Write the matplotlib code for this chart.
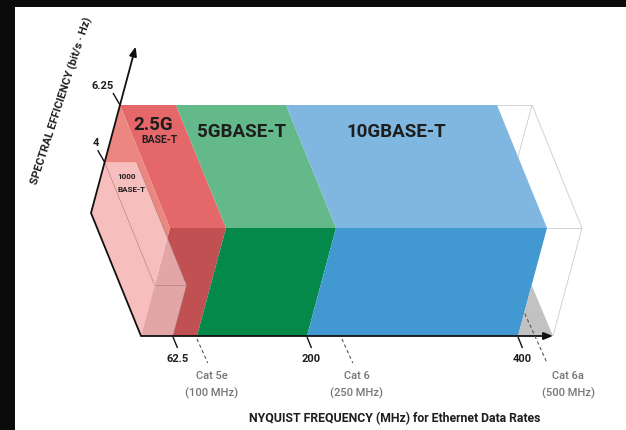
import numpy as np
import matplotlib
matplotlib.use("Agg")
import matplotlib.pyplot as plt
from matplotlib.patches import Polygon, Rectangle

# ---------------- data ----------------
band_label_main = ["2.5G", "5GBASE-T", "10GBASE-T"]
band_label_sub = ["BASE-T", "", ""]
band_f_start = [0, 100, 200]
band_f_end = [100, 200, 400]
band_efficiency = [6.25, 6.25, 6.25]

gig_label = ["1000", "BASE-T"]
gig_f_end = 62.5
gig_efficiency = 4

cat6a_f_end = 500          # extent of the empty (Cat 6a) box
x_ticks = [62.5, 200, 400]
y_ticks = [4, 6.25]
cable_names = ["Cat 5e", "Cat 6", "Cat 6a"]
cable_freq = [100, 250, 500]

# ---------------- illustration scale (not to scale, as in original) -------
FREQ_KNOTS = [0, 62.5, 100, 200, 250, 400, 500]
FREQ_PX = [0, 32, 56, 166, 201, 377, 412]
S_MIN, S_MAX = 2.0, 6.25
ORIGIN = np.array([141.0, 336.0])
EFF_VEC = np.array([29.0, -108.0])
DEPTH_VEC = np.array([-50.0, -123.0])


def proj(f, s, d):
    u = np.interp(f, FREQ_KNOTS, FREQ_PX)
    t = (s - S_MIN) / (S_MAX - S_MIN)
    p = ORIGIN + np.array([u, 0.0]) + t * EFF_VEC + d * DEPTH_VEC
    return float(p[0]), float(p[1])


top_colors = ["#E4676A", "#64B98A", "#80B7E1"]
front_colors = ["#C15053", "#05894A", "#4299D2"]
end_color = "#EC8681"
TEXT = "#1E1E1E"
GREY_TXT = "#767676"
FONT = ["Roboto", "DejaVu Sans"]

fig = plt.figure(figsize=(6.26, 4.30), dpi=100, facecolor="#0B0B0B")
ax = fig.add_axes([0, 0, 1, 1])
ax.set_xlim(0, 626)
ax.set_ylim(430, 0)
ax.axis("off")
ax.add_patch(Rectangle((15, 7), 611, 423, facecolor="white", edgecolor="none", zorder=0))


def poly(pts, fc, ec="none", lw=0, alpha=1.0, z=2):
    ax.add_patch(Polygon(pts, closed=True, facecolor=fc, edgecolor=ec,
                         linewidth=lw, alpha=alpha, zorder=z, joinstyle="miter"))


def line(p, q, **kw):
    ax.plot([p[0], q[0]], [p[1], q[1]], solid_capstyle="butt", **kw)


# ---- empty Cat 6a box (400 -> 500) ----
f0, f1 = band_f_end[-1], cat6a_f_end
edge = dict(color="#D2D2D2", lw=0.7, zorder=1)
line(proj(f1, S_MAX, 1), proj(f1, S_MIN, 1), **edge)
line(proj(0, S_MAX, 1), proj(f1, S_MAX, 1), **edge)
line(proj(f1, S_MAX, 1), proj(f1, S_MAX, 0), **edge)
line(proj(f1, S_MAX, 0), proj(f1, S_MIN, 0), **edge)
line(proj(f0, S_MAX, 0), proj(f1, S_MAX, 0), **edge)

# ---- bands ----
for i in range(len(band_f_start)):
    a, b, s = band_f_start[i], band_f_end[i], band_efficiency[i]
    top = [proj(a, s, 0), proj(b, s, 0), proj(b, s, 1), proj(a, s, 1)]
    front = [proj(a, S_MIN, 0), proj(b, S_MIN, 0), proj(b, s, 0), proj(a, s, 0)]
    poly(top, top_colors[i], z=2)
    poly(front, front_colors[i], z=2)

# left end face of first band
s = band_efficiency[0]
poly([proj(0, S_MIN, 0), proj(0, s, 0), proj(0, s, 1), proj(0, S_MIN, 1)], end_color, z=2)

# grey triangle beyond 400 MHz
poly([proj(f0, S_MIN, 0), proj(f0, gig_efficiency, 0), proj(f1, S_MIN, 0)], "#C2C2C2", z=2)

# ---- 1000BASE-T translucent box ----
g = gig_efficiency
pink = "#FFEEEE"
faces = [
    [proj(0, S_MIN, 0), proj(0, g, 0), proj(0, g, 1), proj(0, S_MIN, 1)],
    [proj(0, g, 0), proj(gig_f_end, g, 0), proj(gig_f_end, g, 1), proj(0, g, 1)],
    [proj(0, S_MIN, 0), proj(gig_f_end, S_MIN, 0), proj(gig_f_end, g, 0), proj(0, g, 0)],
]
for fc in faces:
    poly(fc, pink, alpha=0.55, z=3)
ed = dict(color="#9A7070", lw=0.45, alpha=0.7, zorder=4)
line(proj(0, g, 1), proj(0, g, 0), **ed)
line(proj(0, g, 0), proj(gig_f_end, g, 0), **ed)
line(proj(gig_f_end, g, 0), proj(gig_f_end, S_MIN, 0), **ed)
line(proj(gig_f_end, g, 1), proj(gig_f_end, g, 0), **ed)

# ---- axes ----
ax_kw = dict(color="#111111", lw=1.3, zorder=6)
line(proj(0, S_MIN, 1), proj(0, S_MIN, 0), **ax_kw)
ax.annotate("", xy=proj(cat6a_f_end, S_MIN, 0), xytext=proj(0, S_MIN, 0),
            arrowprops=dict(arrowstyle="-|>,head_length=0.55,head_width=0.22",
                            color="#111111", lw=1.3, shrinkA=0, shrinkB=0), zorder=6)
s_top_arrow = S_MAX + 0.54 * (S_MAX - S_MIN)
ax.annotate("", xy=proj(0, s_top_arrow, 1), xytext=proj(0, S_MIN, 1),
            arrowprops=dict(arrowstyle="-|>,head_length=0.55,head_width=0.22",
                            color="#111111", lw=1.3, shrinkA=0, shrinkB=0), zorder=6)

# y ticks
for v in y_ticks:
    p = proj(0, v, 1)
    q = (p[0] - 7, p[1] - 12)
    line(p, q, color="#111111", lw=1.0, zorder=6)
    ax.text(q[0] + 1, q[1] - 7, f"{v:g}", ha="right", va="center",
            fontsize=8, fontweight="bold", color=TEXT, family=FONT, zorder=7)

# x ticks
for v in x_ticks:
    p = proj(v, S_MIN, 0)
    q = (p[0] + 4.5, p[1] + 12)
    line((p[0], p[1] + 1), q, color="#111111", lw=1.0, zorder=6)
    ax.text(q[0], q[1] + 11, f"{v:g}", ha="center", va="center",
            fontsize=8, fontweight="bold", color=TEXT, family=FONT, zorder=7)

# cable leaders + labels
lead_anchor_s = [S_MIN, S_MIN, 3.0]
lead_anchor_f = [100, 250, 400]
for name, fq, af, as_ in zip(cable_names, cable_freq, lead_anchor_f, lead_anchor_s):
    p = proj(af, as_, 0)
    p = (p[0], p[1] + 3)
    end_y = 363
    q = (p[0] + (end_y - p[1]) * 0.45, end_y)
    line(p, q, color="#555555", lw=0.8, ls=(0, (3, 2.5)), zorder=6)
    cx = proj(fq, S_MIN, 0)[0] + 15
    ax.text(cx, 376, name, ha="center", va="center", fontsize=8,
            color=GREY_TXT, family=FONT, fontweight="medium", zorder=7)
    ax.text(cx, 393, f"({fq} MHz)", ha="center", va="center", fontsize=8,
            color=GREY_TXT, family=FONT, fontweight="medium", zorder=7)

# band labels
for i in range(len(band_f_start)):
    fm = (band_f_start[i] + band_f_end[i]) / 2
    if band_label_sub[i]:
        x, y = proj(fm, band_efficiency[i], 0.84)
        ax.text(x, y, band_label_main[i], ha="center", va="center", fontsize=13.5,
                fontweight="bold", color=TEXT, family=FONT, zorder=7)
        x, y = proj(fm, band_efficiency[i], 0.715)
        ax.text(x, y, band_label_sub[i], ha="center", va="center", fontsize=7.5,
                fontweight="bold", color=TEXT, family=FONT, zorder=7)
    else:
        x, y = proj(fm, band_efficiency[i], 0.78)
        ax.text(x + (6 if i == 2 else 0), y, band_label_main[i], ha="center", va="center",
                fontsize=13.5, fontweight="bold", color=TEXT, family=FONT, zorder=7)

fm = gig_f_end / 2
x, y = proj(fm, gig_efficiency, 0.88)
ax.text(x, y, gig_label[0], ha="center", va="center", fontsize=5.8,
        fontweight="bold", color=TEXT, family=FONT, zorder=7)
x, y = proj(fm, gig_efficiency, 0.775)
ax.text(x, y, gig_label[1], ha="center", va="center", fontsize=5.8,
        fontweight="bold", color=TEXT, family=FONT, zorder=7)

# axis titles
ax.text(395, 419, "NYQUIST FREQUENCY (MHz) for Ethernet Data Rates", ha="center",
        va="center", fontsize=8.8, fontweight="bold", color=TEXT, family=FONT, zorder=7)
ax.text(62, 101, "SPECTRAL EFFICIENCY (bit/s \u00b7 Hz)", ha="center", va="center",
        rotation=72, rotation_mode="anchor", fontsize=8.1, fontweight="bold",
        color=TEXT, family=FONT, zorder=7)

fig.savefig("out.png", dpi=100, facecolor=fig.get_facecolor())
